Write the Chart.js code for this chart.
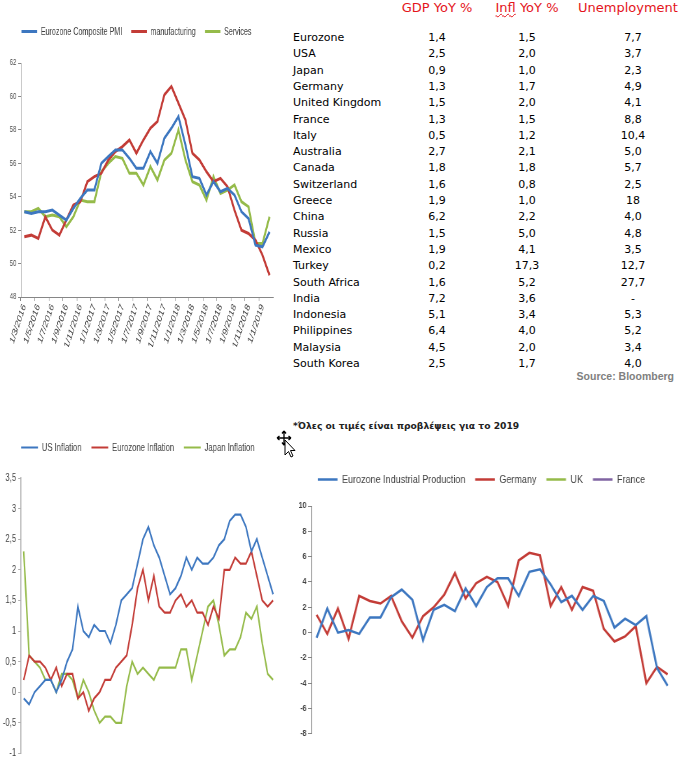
<!DOCTYPE html>
<html>
<head>
<meta charset="utf-8">
<script src="https://cdn.jsdelivr.net/npm/chart.js@4.4.0/dist/chart.umd.min.js"></script>
<style>
  body { margin: 0; background: #fff; width: 690px; height: 774px; position: relative; overflow: hidden; }
  canvas { position: absolute; transform-origin: 0 0; }
  /* the source charts are squeezed sideways, so each canvas is drawn wide and scaled down in x */
  #pmiChart { left: 0; top: 12px; transform: scaleX(0.65); }
  #inflChart { left: 0; top: 428px; transform: scaleX(0.70); }
  #ipChart { left: 290px; top: 462px; transform: scaleX(0.82); }
  .cell { position: absolute; white-space: nowrap; line-height: 16px; font-family: 'DejaVu Sans', sans-serif; color: #000; }
  .hdr { position: absolute; top: 0; line-height: 16px; white-space: nowrap; font: 13px 'DejaVu Sans', sans-serif; color: #e4141b; transform: translateX(-50%); }
  .num { font-size: 11px; transform: translateX(-50%); }
  .name { font-size: 11px; }
  .squiggle { text-decoration: underline wavy #e4141b; text-decoration-thickness: 1px; }
  #source { position: absolute; right: 16px; top: 370px; font: bold 10.5px 'Liberation Sans', sans-serif; color: #808080; }
  #note { position: absolute; left: 293px; top: 420px; font: bold 9.2px 'DejaVu Sans', sans-serif; color: #222; white-space: nowrap; }
  #cursor { position: absolute; left: 275px; top: 430px; }
</style>
</head>
<body>
<canvas id="pmiChart" width="443" height="335"></canvas>
<canvas id="inflChart" width="403" height="335"></canvas>
<canvas id="ipChart" width="482" height="279"></canvas>
<div id="table"></div>
<div id="source">Source: Bloomberg</div>
<div id="note">*Όλες οι τιμές είναι προβλέψεις για το 2019</div>
<svg id="cursor" width="24" height="30" viewBox="0 0 24 30">
  <path d="M9 1 L9 15 M2 8 L16 8 M9 1 L7 3.5 M9 1 L11 3.5 M2 8 L4.5 6 M2 8 L4.5 10 M16 8 L13.5 6 M16 8 L13.5 10 M9 15 L7 12.5 M9 15 L11 12.5" stroke="#000" stroke-width="1.3" fill="none"/>
  <path d="M10 10 L10 25 L13.5 21.5 L16 27 L18 26 L15.5 20.5 L20 20.5 Z" fill="#fff" stroke="#000" stroke-width="1"/>
</svg>
<script>
// ---- PMI chart data (monthly) ----
const pmiMonths = ['1/3/2016','1/4/2016','1/5/2016','1/6/2016','1/7/2016','1/8/2016','1/9/2016','1/10/2016','1/11/2016','1/12/2016',
  '1/1/2017','1/2/2017','1/3/2017','1/4/2017','1/5/2017','1/6/2017','1/7/2017','1/8/2017','1/9/2017','1/10/2017','1/11/2017','1/12/2017',
  '1/1/2018','1/2/2018','1/3/2018','1/4/2018','1/5/2018','1/6/2018','1/7/2018','1/8/2018','1/9/2018','1/10/2018','1/11/2018','1/12/2018',
  '1/1/2019','1/2/2019'];
const pmiComposite = [53.1,53.0,53.1,53.1,53.2,52.9,52.6,53.3,53.9,54.4,
  54.4,56.0,56.4,56.8,56.8,56.3,55.7,55.7,56.7,56.0,57.5,58.1,
  58.8,57.1,55.2,55.1,54.1,54.9,54.3,54.5,54.1,53.1,52.7,51.1,
  51.0,51.9];
const pmiManufacturing = [51.6,51.7,51.5,52.8,52.0,51.7,52.6,53.5,53.7,54.9,
  55.2,55.4,56.2,56.7,57.0,57.4,56.6,57.4,58.1,58.5,60.1,60.6,
  59.6,58.6,56.6,56.2,55.5,54.9,55.1,54.6,53.2,52.0,51.8,51.4,
  50.5,49.3];
const pmiServices = [53.1,53.1,53.3,52.8,52.9,52.8,52.2,52.8,53.8,53.7,
  53.7,55.5,56.0,56.4,56.3,55.4,55.4,54.7,55.8,55.0,56.2,56.6,
  58.0,56.2,54.9,54.7,53.8,55.2,54.2,54.4,54.7,53.7,53.4,51.2,
  51.2,52.8];

// ---- Inflation chart data (monthly, no axis labels shown) ----
const inflMonths = ['3/2015','4/2015','5/2015','6/2015','7/2015','8/2015','9/2015','10/2015','11/2015','12/2015',
  '1/2016','2/2016','3/2016','4/2016','5/2016','6/2016','7/2016','8/2016','9/2016','10/2016','11/2016','12/2016',
  '1/2017','2/2017','3/2017','4/2017','5/2017','6/2017','7/2017','8/2017','9/2017','10/2017','11/2017','12/2017',
  '1/2018','2/2018','3/2018','4/2018','5/2018','6/2018','7/2018','8/2018','9/2018','10/2018','11/2018','12/2018',
  '1/2019'];
const usInflation = [-0.1,-0.2,0.0,0.1,0.2,0.2,0.0,0.2,0.5,0.7,
  1.4,1.0,0.9,1.1,1.0,1.0,0.8,1.1,1.5,1.6,1.7,2.1,
  2.5,2.7,2.4,2.2,1.9,1.6,1.7,1.9,2.2,2.0,2.2,2.1,
  2.1,2.2,2.4,2.5,2.8,2.9,2.9,2.7,2.3,2.5,2.2,1.9,
  1.6];
const euInflation = [0.2,0.6,0.5,0.5,0.4,0.2,0.4,0.1,0.3,0.3,
  -0.1,0.0,-0.3,-0.1,0.0,0.2,0.2,0.4,0.5,0.6,1.1,1.7,
  2.0,1.5,1.9,1.4,1.3,1.3,1.5,1.6,1.4,1.5,1.3,1.3,
  1.1,1.4,1.2,2.0,2.0,2.2,2.1,2.1,2.3,1.9,1.5,1.4,
  1.5];
const jpInflation = [2.3,0.6,0.5,0.4,0.2,0.2,0.0,0.3,0.3,0.2,
  -0.1,0.2,0.0,-0.3,-0.5,-0.4,-0.4,-0.5,-0.5,0.1,0.5,0.3,
  0.4,0.3,0.2,0.4,0.4,0.4,0.4,0.7,0.7,0.2,0.6,1.0,
  1.4,1.5,1.1,0.6,0.7,0.7,0.9,1.3,1.2,1.4,0.8,0.3,
  0.2];

// ---- Industrial production chart data ----
const ipMonths = ['3/2016','4/2016','5/2016','6/2016','7/2016','8/2016','9/2016','10/2016','11/2016','12/2016',
  '1/2017','2/2017','3/2017','4/2017','5/2017','6/2017','7/2017','8/2017','9/2017','10/2017','11/2017','12/2017',
  '1/2018','2/2018','3/2018','4/2018','5/2018','6/2018','7/2018','8/2018','9/2018','10/2018','11/2018','12/2018'];
const ezIndustrial = [-0.4,1.9,0.0,0.2,-0.1,1.2,1.2,2.8,3.4,2.6,
  -0.6,1.8,2.2,1.7,3.5,2.1,3.6,4.3,4.3,2.9,4.8,5.0,
  3.8,2.4,2.9,1.8,2.9,2.5,0.4,1.1,0.6,1.3,-2.8,-4.2];
const deIndustrial = [1.4,-0.1,1.9,-0.5,2.9,2.5,2.3,2.9,0.9,-0.4,
  1.3,2.0,3.0,4.7,2.7,3.9,4.4,4.0,2.1,5.7,6.3,6.1,
  2.1,3.6,1.8,3.6,3.3,0.3,-0.7,-0.3,0.5,-4.0,-2.7,-3.3];
const ukIndustrial = [];
const frIndustrial = [];

// ---- Forecast table ----
const countries = ['Eurozone','USA','Japan','Germany','United Kingdom','France','Italy','Australia','Canada','Switzerland',
  'Greece','China','Russia','Mexico','Turkey','South Africa','India','Indonesia','Philippines','Malaysia','South Korea'];
const gdpYoY = ['1,4','2,5','0,9','1,3','1,5','1,3','0,5','2,7','1,8','1,6','1,9','6,2','1,5','1,9','0,2','1,6','7,2','5,1','6,4','4,5','2,5'];
const inflYoY = ['1,5','2,0','1,0','1,7','2,0','1,5','1,2','2,1','1,8','0,8','1,0','2,2','5,0','4,1','17,3','5,2','3,6','3,4','4,0','2,0','1,7'];
const unemployment = ['7,7','3,7','2,3','4,9','4,1','8,8','10,4','5,0','5,7','2,5','18','4,0','4,8','3,5','12,7','27,7','-','5,3','5,2','3,4','4,0'];

const BLUE = '#3d77c0';
const RED = '#c33c37';
const GREEN = '#95bb4a';
const PURPLE = '#8064a2';
const AXIS = '#868686';
const SANS = "'Liberation Sans', Arial, sans-serif";

// build the table as plain text
const table = document.getElementById('table');
const headers = [['GDP YoY %', 437], ['<span class="squiggle">Infl</span> YoY %', 527], ['Unemployment', 628]];
headers.forEach(h => {
  const d = document.createElement('div');
  d.className = 'hdr';
  d.style.left = h[1] + 'px';
  d.innerHTML = h[0];
  table.appendChild(d);
});
countries.forEach((c, i) => {
  const top = 30 + i * 16.3;
  const cols = [[c, 293, 'name'], [gdpYoY[i], 437, 'num'], [inflYoY[i], 527, 'num'], [unemployment[i], 633, 'num']];
  cols.forEach(col => {
    const d = document.createElement('div');
    d.className = 'cell ' + col[2];
    d.style.left = col[1] + 'px';
    d.style.top = top + 'px';
    d.textContent = col[0];
    table.appendChild(d);
  });
});

// fixed legend height so the plot area lands where it should
function legendGap(h) {
  return {
    id: 'legendGap',
    beforeInit(chart) {
      const fit = chart.legend.fit;
      chart.legend.fit = function () {
        fit.call(this);
        this.height = h;
      };
    }
  };
}

function lineSet(label, data, color, width) {
  return {
    label: label,
    data: data,
    borderColor: color,
    backgroundColor: color,
    borderWidth: width,
    pointRadius: 0,
    tension: 0,
    fill: false
  };
}

function legendOpts(size, box, pad) {
  return {
    position: 'top',
    labels: {
      boxWidth: box,
      boxHeight: 0,
      padding: pad,
      color: '#404040',
      font: { family: SANS, size: size }
    }
  };
}

Chart.defaults.animation = false;
Chart.defaults.font.family = SANS;

// PMI chart (x scale 0.65)
new Chart(document.getElementById('pmiChart'), {
  type: 'line',
  data: {
    labels: pmiMonths,
    datasets: [
      lineSet('Eurozone Composite PMI', pmiComposite, BLUE, 3),
      lineSet('manufacturing', pmiManufacturing, RED, 3),
      lineSet('Services', pmiServices, GREEN, 3)
    ]
  },
  options: {
    responsive: false,
    layout: { padding: { right: 23 } },
    plugins: { legend: legendOpts(11, 24, 14), tooltip: { enabled: false } },
    scales: {
      x: {
        offset: true,
        afterFit: s => { s.height = 50; },
        border: { color: AXIS },
        grid: {
          offset: true,
          drawOnChartArea: false,
          tickLength: 4,
          color: ctx => ctx.index % 2 === 0 ? AXIS : 'rgba(0,0,0,0)'
        },
        ticks: {
          autoSkip: false,
          maxRotation: 63,
          minRotation: 63,
          padding: 1,
          color: '#404040',
          font: { size: 11 },
          callback: (v, i) => i % 2 === 0 ? pmiMonths[i] : ''
        }
      },
      y: {
        min: 48,
        max: 62,
        afterFit: s => { s.width = 32; },
        border: { color: AXIS },
        grid: { drawOnChartArea: false, tickLength: 4, color: AXIS },
        ticks: { stepSize: 2, padding: 3, color: '#404040', font: { size: 9 } }
      }
    }
  },
  plugins: [legendGap(51)]
});

// Inflation chart (x scale 0.70)
new Chart(document.getElementById('inflChart'), {
  type: 'line',
  data: {
    labels: inflMonths,
    datasets: [
      lineSet('US Inflation', usInflation, BLUE, 2.2),
      lineSet('Eurozone Inflation', euInflation, RED, 2.2),
      lineSet('Japan Inflation', jpInflation, GREEN, 2.2)
    ]
  },
  options: {
    responsive: false,
    layout: { padding: { right: 9, bottom: 6 } },
    plugins: { legend: legendOpts(11, 24, 14), tooltip: { enabled: false } },
    scales: {
      x: { display: false, offset: true },
      y: {
        min: -1,
        max: 3.5,
        afterFit: s => { s.width = 30; },
        border: { color: '#b0b0b0', width: 1.5 },
        grid: { drawOnChartArea: false, tickLength: 4, color: '#b0b0b0' },
        ticks: {
          stepSize: 0.5,
          padding: 3,
          color: '#404040',
          font: { size: 11 },
          callback: v => String(v).replace('.', ',')
        }
      }
    }
  },
  plugins: [legendGap(50)]
});

// Industrial production chart (x scale 0.82)
new Chart(document.getElementById('ipChart'), {
  type: 'line',
  data: {
    labels: ipMonths,
    datasets: [
      lineSet('Eurozone Industrial Production', ezIndustrial, BLUE, 2.5),
      lineSet('Germany', deIndustrial, RED, 2.5),
      lineSet('UK', ukIndustrial, GREEN, 2.5),
      lineSet('France', frIndustrial, PURPLE, 2.5)
    ]
  },
  options: {
    responsive: false,
    layout: { padding: { right: 15, bottom: 6 } },
    plugins: { legend: legendOpts(11, 24, 12), tooltip: { enabled: false } },
    scales: {
      x: { display: false, offset: true },
      y: {
        min: -8,
        max: 10,
        afterFit: s => { s.width = 26; },
        border: { color: AXIS },
        grid: { drawOnChartArea: false, tickLength: 4, color: AXIS },
        ticks: {
          stepSize: 2,
          padding: 2,
          color: '#404040',
          font: { size: 8.5, weight: 'bold' }
        }
      }
    }
  },
  plugins: [legendGap(44)]
});
</script>
</body>
</html>
